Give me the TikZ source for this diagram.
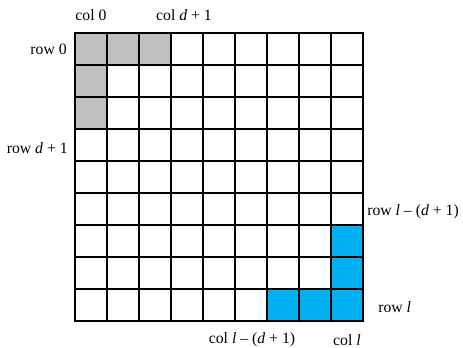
\documentclass[tikz,border=0pt]{standalone}
\usepackage{fontspec}
\setmainfont{Liberation Serif}
\usepackage{tikz}
\usepackage{xcolor}
\definecolor{CellGray}{HTML}{C0C0C0}
\definecolor{CellBlue}{HTML}{00B0F0}

\begin{document}
\begin{tikzpicture}[
  x=0.75pt,y=-0.75pt,
  grayc/.style={fill=CellGray},
  bluec/.style={fill=CellBlue},
  gridline/.style={draw=black,line width=1.4pt,line cap=rect},
  lbl/.style={inner sep=0pt,font=\fontsize{11.8}{14}\selectfont}
]
\useasboundingbox (0,0) rectangle (463,348);
% shaded cells (column, row)
\foreach \c/\r in {0/0,1/0,2/0,0/1,0/2}
  \fill[grayc] ({75+32*\c},{33+32*\r}) rectangle ++(32,32);
\foreach \c/\r in {8/6,8/7,8/8,6/8,7/8}
  \fill[bluec] ({75+32*\c},{33+32*\r}) rectangle ++(32,32);
% grid lines
\foreach \i in {0,...,9} {
  \draw[gridline] ({75+32*\i},33) -- ({75+32*\i},321);
  \draw[gridline] (75,{33+32*\i}) -- (363,{33+32*\i});
}
% labels
\node[lbl] (col0) at (91,15) {col 0};
\node[lbl] (cold) at (184,15) {col \textit{d} + 1};
\node[lbl,anchor=east] (row0) at (67,49) {row 0};
\node[lbl,anchor=east] (rowd) at (68,148) {row \textit{d} + 1};
\node[lbl,anchor=west] (rowld) at (367,212) {row \textit{l} – (\textit{d} + 1)};
\node[lbl,anchor=west] (rowl) at (378,307) {row \textit{l}};
\node[lbl] (colld) at (252,340) {col \textit{l} – (\textit{d} + 1)};
\node[lbl] (coll) at (347,340) {col \textit{l}};
\end{tikzpicture}
\end{document}
